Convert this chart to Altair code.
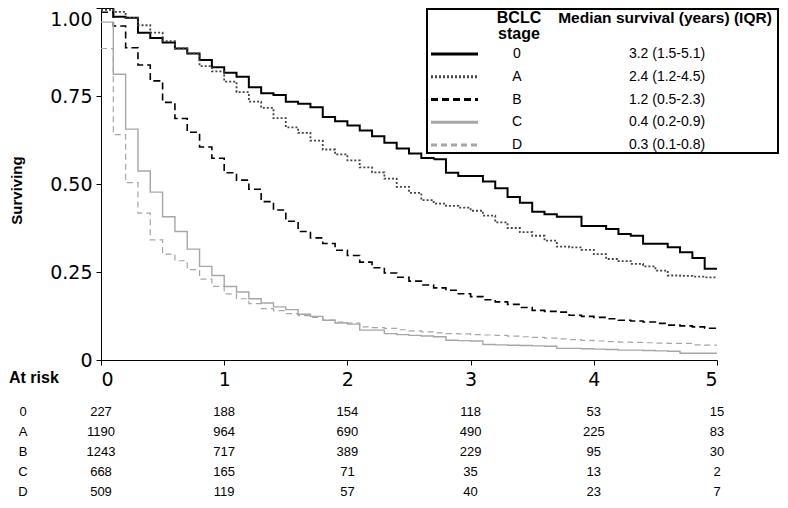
import altair as alt
import pandas as pd

FONT = "Liberation Sans"
AXFONT = "DejaVu Sans"

stages = ["0", "A", "B", "C", "D"]
medians = ["3.2 (1.5-5.1)", "2.4 (1.2-4.5)", "1.2 (0.5-2.3)", "0.4 (0.2-0.9)", "0.3 (0.1-0.8)"]

times = [0.0, 0.1, 0.2, 0.3, 0.4, 0.5, 0.6, 0.7, 0.8, 0.9,
         1.0, 1.1, 1.2, 1.3, 1.4, 1.5, 1.6, 1.7, 1.8, 1.9,
         2.0, 2.1, 2.2, 2.3, 2.4, 2.5, 2.6, 2.7, 2.8, 2.9,
         3.0, 3.1, 3.2, 3.3, 3.4, 3.5, 3.6, 3.7, 3.8, 3.9,
         4.0, 4.1, 4.2, 4.3, 4.4, 4.5, 4.6, 4.7, 4.8, 4.9,
         5.0]

surv_0 = [1.000, 0.975, 0.972, 0.930, 0.915, 0.902, 0.885, 0.871, 0.852, 0.832,
          0.816, 0.805, 0.775, 0.758, 0.753, 0.734, 0.728, 0.718, 0.690, 0.678,
          0.666, 0.652, 0.636, 0.617, 0.601, 0.587, 0.574, 0.570, 0.532, 0.523,
          0.523, 0.507, 0.488, 0.463, 0.447, 0.421, 0.414, 0.407, 0.407, 0.381,
          0.381, 0.372, 0.358, 0.353, 0.330, 0.330, 0.320, 0.306, 0.290, 0.259,
          0.259]

surv_A = [0.995, 0.989, 0.972, 0.951, 0.930, 0.906, 0.885, 0.871, 0.835, 0.820,
          0.791, 0.761, 0.734, 0.716, 0.687, 0.661, 0.645, 0.623, 0.598, 0.584,
          0.567, 0.547, 0.533, 0.515, 0.492, 0.475, 0.454, 0.444, 0.438, 0.433,
          0.424, 0.410, 0.391, 0.375, 0.363, 0.353, 0.339, 0.322, 0.320, 0.313,
          0.301, 0.287, 0.281, 0.273, 0.266, 0.254, 0.240, 0.239, 0.237, 0.235,
          0.235]

surv_B = [0.988, 0.949, 0.887, 0.838, 0.793, 0.732, 0.686, 0.647, 0.605, 0.573,
          0.532, 0.511, 0.485, 0.450, 0.426, 0.394, 0.365, 0.347, 0.331, 0.312,
          0.297, 0.278, 0.262, 0.247, 0.235, 0.224, 0.213, 0.205, 0.198, 0.188,
          0.180, 0.171, 0.165, 0.158, 0.149, 0.141, 0.138, 0.136, 0.127, 0.124,
          0.121, 0.117, 0.113, 0.111, 0.108, 0.104, 0.099, 0.097, 0.094, 0.090,
          0.090]

surv_C = [0.960, 0.812, 0.656, 0.537, 0.477, 0.407, 0.365, 0.315, 0.266, 0.240,
          0.209, 0.193, 0.174, 0.162, 0.151, 0.143, 0.130, 0.124, 0.113, 0.105,
          0.102, 0.085, 0.085, 0.075, 0.072, 0.070, 0.068, 0.066, 0.056, 0.055,
          0.054, 0.044, 0.043, 0.042, 0.041, 0.040, 0.039, 0.033, 0.033, 0.032,
          0.031, 0.030, 0.028, 0.028, 0.027, 0.026, 0.025, 0.019, 0.019, 0.019,
          0.019]

surv_D = [0.885, 0.640, 0.504, 0.417, 0.341, 0.301, 0.282, 0.257, 0.230, 0.209,
          0.188, 0.174, 0.160, 0.146, 0.140, 0.132, 0.126, 0.121, 0.113, 0.108,
          0.105, 0.094, 0.092, 0.090, 0.086, 0.083, 0.080, 0.077, 0.075, 0.074,
          0.072, 0.071, 0.070, 0.068, 0.066, 0.064, 0.062, 0.060, 0.058, 0.056,
          0.054, 0.052, 0.051, 0.050, 0.049, 0.048, 0.047, 0.047, 0.043, 0.042,
          0.042]

risk_times = [0, 1, 2, 3, 4, 5]
risk_0 = [227, 188, 154, 118, 53, 15]
risk_A = [1190, 964, 690, 490, 225, 83]
risk_B = [1243, 717, 389, 229, 95, 30]
risk_C = [668, 165, 71, 35, 13, 2]
risk_D = [509, 119, 57, 40, 23, 7]

# ---- tables built from the arrays ----
curve_rows = []
for s, vals in zip(stages, [surv_0, surv_A, surv_B, surv_C, surv_D]):
    for t, v in zip(times, vals):
        curve_rows.append({"stage": s, "t": t, "surv": v})
curves_df = pd.DataFrame(curve_rows)

risk_rows = []
for s, vals in zip(stages, [risk_0, risk_A, risk_B, risk_C, risk_D]):
    for t, n in zip(risk_times, vals):
        risk_rows.append({"stage": s, "t": t, "n": n})
risk_df = pd.DataFrame(risk_rows)

legend_df = pd.DataFrame({"stage": stages, "median": medians})
one = pd.DataFrame({"k": [0]})

color_scale = alt.Scale(domain=stages, range=["#000000", "#444444", "#000000", "#a6a6a6", "#a6a6a6"])
dash_scale = alt.Scale(domain=stages, range=[[1, 0], [2, 2], [7, 4], [1, 0], [6, 4]])
width_scale = alt.Scale(domain=stages, range=[2.0, 1.2, 2.0, 2.0, 1.5])
x_scale = alt.Scale(domain=[0, 5], nice=False, zero=True)
y_scale = alt.Scale(domain=[0, 1], nice=False)

curves = alt.Chart(curves_df).mark_line(interpolate="step-after").encode(
    x=alt.X("t:Q", scale=x_scale,
            axis=alt.Axis(values=risk_times, format="d", title=None,
                          labelPadding=5)),
    y=alt.Y("surv:Q", scale=y_scale,
            axis=alt.Axis(values=[0, 0.25, 0.5, 0.75, 1],
                          labelExpr="datum.value == 0 ? '0' : format(datum.value, '.2f')",
                          labelBaseline={"condition": {"test": "datum.value == 1", "value": "top"}, "value": "middle"},
                          labelOffset={"condition": {"test": "datum.value == 1", "value": 2}, "value": 0},
                          title="Surviving", titleX=-85, titleY=182, titleBaseline="middle",
                          titleAngle=270, labelPadding=4)),
    color=alt.Color("stage:N", scale=color_scale, legend=None),
    strokeDash=alt.StrokeDash("stage:N", scale=dash_scale, legend=None),
    strokeWidth=alt.StrokeWidth("stage:N", scale=width_scale, legend=None),
)

legend_box = alt.Chart(one).mark_rect(fill="white", stroke="black", strokeWidth=2).encode(
    x=alt.value(326), x2=alt.value(677), y=alt.value(1), y2=alt.value(145)
)

legend_y = alt.Y("stage:N", scale=alt.Scale(type="point", domain=stages, range=[46, 137], padding=0), axis=None)

legend_lines = alt.Chart(legend_df).mark_rule(strokeWidth=3).encode(
    x=alt.value(330), x2=alt.value(377), y=legend_y,
    color=alt.Color("stage:N", scale=color_scale, legend=None),
    strokeDash=alt.StrokeDash("stage:N", scale=dash_scale, legend=None),
)

legend_stage = alt.Chart(legend_df).mark_text(font=FONT, fontSize=14, color="black", align="center", baseline="middle").encode(
    x=alt.value(416), y=legend_y, text="stage:N"
)
legend_med = alt.Chart(legend_df).mark_text(font=FONT, fontSize=14, color="black", align="center", baseline="middle").encode(
    x=alt.value(566), y=legend_y, text="median:N"
)

hdr_style = dict(font=FONT, fontWeight="bold", color="black", align="center", baseline="middle")
hdr1 = alt.Chart(one).mark_text(fontSize=16, **hdr_style).encode(x=alt.value(418), y=alt.value(10), text=alt.value("BCLC"))
hdr2 = alt.Chart(one).mark_text(fontSize=16, **hdr_style).encode(x=alt.value(418), y=alt.value(26), text=alt.value("stage"))
hdr3 = alt.Chart(one).mark_text(fontSize=15.5, **hdr_style).encode(x=alt.value(564), y=alt.value(10), text=alt.value("Median survival (years) (IQR)"))

table_y = alt.Y("stage:N", scale=alt.Scale(type="point", domain=stages, range=[404, 484], padding=0), axis=None)

table = alt.Chart(risk_df).mark_text(font=FONT, fontSize=13, color="black", align="center", baseline="middle").encode(
    x=alt.X("t:Q", scale=x_scale), y=table_y, text="n:Q"
)
table_labels = alt.Chart(legend_df).mark_text(font=FONT, fontSize=13, color="black", align="center", baseline="middle").encode(
    x=alt.value(-78), y=table_y, text="stage:N"
)
at_risk = alt.Chart(one).mark_text(font=FONT, fontSize=16, fontWeight="bold", color="black", align="left", baseline="middle").encode(
    x=alt.value(-92), y=alt.value(370), text=alt.value("At risk")
)

chart = alt.layer(
    curves, legend_box, legend_lines, legend_stage, legend_med, hdr1, hdr2, hdr3,
    table, table_labels, at_risk
).resolve_scale(y="independent").properties(
    width=616, height=352,
    autosize=alt.AutoSizeParams(type="none"),
    padding={"left": 93, "top": 0, "right": 63, "bottom": 139},
    background="white",
).configure_view(stroke=None).configure_axis(
    grid=False,
    domainColor="black", domainWidth=1,
    tickColor="black", tickSize=5, tickWidth=1,
    labelColor="black", labelFont=AXFONT, labelFontSize=19,
    titleColor="black", titleFont=FONT, titleFontSize=15, titleFontWeight="bold",
)

chart.save("out.html", embed_options={"renderer": "svg", "actions": False})
